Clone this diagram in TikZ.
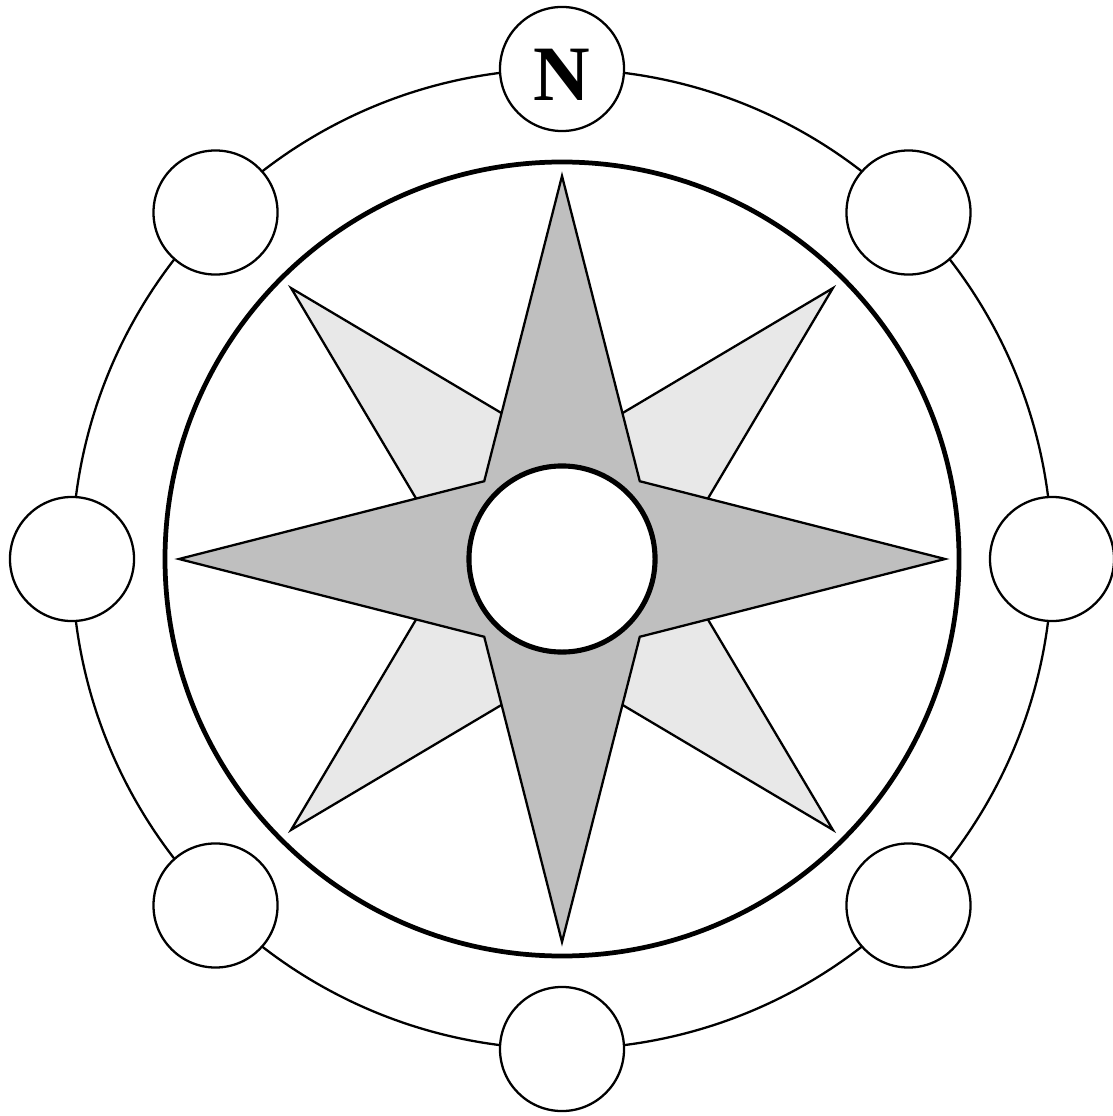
\documentclass[tikz,border=0pt]{standalone}
\usepackage{fontspec}
\newfontfamily\nfont{Liberation Serif}
\begin{document}
\begin{tikzpicture}[x=0.01cm,y=-0.01cm,
  thinline/.style={line width=0.65pt, line join=miter},
  thickline/.style={line width=1.35pt},
  dial/.style={circle, draw, line width=0.65pt, fill=white, minimum size=1.24cm, inner sep=0pt},
  mainstar/.style={thinline, draw=black, fill=black!25},
  diagstar/.style={thinline, draw=black, fill=black!9}]
\useasboundingbox (0,0) rectangle (1113,1116);
\begin{scope}[shift={(562,559)}]
  % outer ring
  \draw[thinline] (0,0) circle[radius=490];
  % dials (y axis points down, so -90 is the top)
  \foreach \a/\n in {-90/N,-45/NE,0/E,45/SE,90/S,135/SW,180/W,-135/NW}
    \node[dial] (c\n) at (\a:490) {};
  \node[font=\nfont\bfseries\fontsize{22.3}{24}\selectfont] (lblN) at ([yshift=-1.7pt]cN.center) {N};
  % inner thick circle
  \draw[thickline] (0,0) circle[radius=397];
  % diagonal star
  \draw[diagstar] (45:383) -- (90:110) -- (135:383) -- (180:110) -- (225:383) -- (270:110) -- (315:383) -- (0:110) -- cycle;
  % main star
  \draw[mainstar] (90:383) -- (135:110) -- (180:383) -- (225:110) -- (270:383) -- (315:110) -- (0:383) -- (45:110) -- cycle;
  % center circle
  \node[circle, draw, line width=1.45pt, fill=white, minimum size=1.86cm, inner sep=0pt] (hub) at (0,0) {};
\end{scope}
\end{tikzpicture}
\end{document}
